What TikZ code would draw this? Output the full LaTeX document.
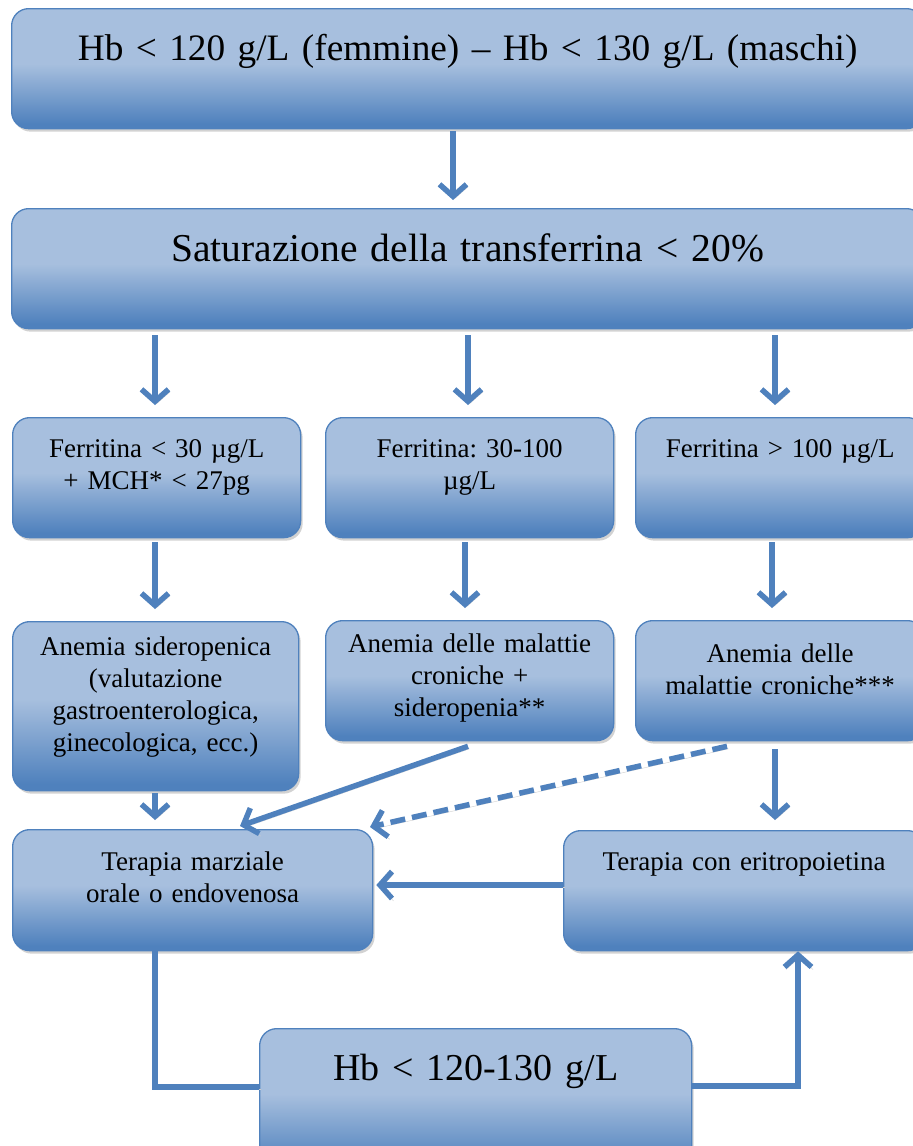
\documentclass[tikz,border=0pt]{standalone}
\usepackage{fontspec}
\setmainfont{Liberation Serif}[WordSpace=0.85]
\usetikzlibrary{arrows.meta,shadows,calc}
\definecolor{btop}{RGB}{167,191,222}
\definecolor{bbot}{RGB}{79,129,189}
\definecolor{bline}{RGB}{79,129,189}
\definecolor{shgray}{RGB}{205,205,205}
\pgfdeclareverticalshading{boxgrad}{100bp}{color(0bp)=(bbot); color(27bp)=(bbot); color(52bp)=(btop); color(100bp)=(btop)}
\newcommand{\bigtxt}{\frenchspacing\fontsize{39.5}{47}\selectfont}
\newcommand{\smalltxt}{\frenchspacing\fontsize{27}{32}\selectfont}
\begin{document}
\begin{tikzpicture}[x=1pt,y=-1pt,
  box/.style={draw=bline, line width=1.3pt, rounded corners=17pt, shading=boxgrad,
    inner sep=0pt, anchor=north west, align=center,
    drop shadow={shadow xshift=2pt, shadow yshift=-3pt, fill=shgray, opacity=0.9}},
  lineshadow/.style={preaction={draw=shgray, transform canvas={shift={(1.5pt,-2.5pt)}}}},
  conn/.style={draw=bline, line width=5.5pt, lineshadow},
  arr/.style={conn, -{Straight Barb[length=12pt, width=27pt]}},
  dasharr/.style={arr, dash pattern=on 15pt off 7pt}]
\clip (0,0) rectangle (913,1146);

% boxes
\node[box, text width=912pt, text height=52pt, text depth=68pt, font=\frenchspacing\fontsize{37.3}{45}\selectfont] (b1) at (11,8)
  {Hb < 120 g/L (femmine) – Hb < 130 g/L (maschi)};
\node[box, text width=912pt, text height=53pt, text depth=67pt, font=\bigtxt] (b2) at (11,208)
  {Saturazione della transferrina < 20\%};

\node[box, text width=288pt, text height=40pt, text depth=80pt, font=\smalltxt] (f1) at (12,417)
  {Ferritina < 30 µg/L\\+ MCH* < 27pg};
\node[box, text width=288pt, text height=40pt, text depth=80pt, font=\smalltxt] (f2) at (325,417)
  {Ferritina: 30-100\\µg/L};
\node[box, text width=289pt, text height=40pt, text depth=80pt, font=\smalltxt] (f3) at (635,417)
  {Ferritina > 100 µg/L};

\node[box, text width=286pt, text height=34pt, text depth=135pt, font=\smalltxt] (a1) at (12,621)
  {Anemia sideropenica\\(valutazione\\gastroenterologica,\\ginecologica, ecc.)};
\node[box, text width=288pt, text height=32pt, text depth=88pt, font=\smalltxt] (a2) at (325,620)
  {Anemia delle malattie\\croniche +\\sideropenia**};
\node[box, text width=289pt, text height=42pt, text depth=78pt, font=\smalltxt] (a3) at (635,620)
  {Anemia delle\\malattie croniche***};

\node[box, text width=360pt, text height=41pt, text depth=80pt, font=\smalltxt] (t1) at (12,829)
  {Terapia marziale\\orale o endovenosa};
\node[box, text width=361pt, text height=40pt, text depth=80pt, font=\smalltxt] (t2) at (563,830)
  {Terapia con eritropoietina};

\node[box, text width=432pt, text height=52pt, text depth=90pt, font=\frenchspacing\fontsize{38}{46}\selectfont] (hb) at (259,1028)
  {Hb < 120-130 g/L};

% connectors
\draw[arr, shorten <=2pt, shorten >=8pt] (453,0 |- b1.south) -- (453,0 |- b2.north);

\draw[arr, shorten <=6pt, shorten >=12pt] (155,0 |- b2.south) -- (155,0 |- f1.north);
\draw[arr, shorten <=6pt, shorten >=12pt] (468,0 |- b2.south) -- (468,0 |- f2.north);
\draw[arr, shorten <=6pt, shorten >=12pt] (775,0 |- b2.south) -- (775,0 |- f3.north);

\draw[arr, shorten <=4pt, shorten >=12pt] (155,0 |- f1.south) -- (155,0 |- a1.north);
\draw[arr, shorten <=4pt, shorten >=12pt] (465,0 |- f2.south) -- (465,0 |- a2.north);
\draw[arr, shorten <=4pt, shorten >=12pt] (772,0 |- f3.south) -- (772,0 |- a3.north);

\draw[arr, shorten <=2pt, shorten >=9pt] (155,0 |- a1.south) -- (155,0 |- t1.north);
\draw[arr] ($(468,0 |- a2.south)+(0,5)$) -- ($(240,0 |- t1.north)+(0,-3)$);
\draw[dasharr] ($(727,0 |- a3.south)+(0,5)$) -- ($(370,0 |- t1.north)+(0,-2)$);
\draw[arr, shorten <=8pt, shorten >=10pt] (775,0 |- a3.south) -- (775,0 |- t2.north);

\draw[arr, shorten >=3pt] (t2.west |- 0,885) -- (t1.east |- 0,885);

\draw[conn] (155,0 |- t1.south) |- (hb.west |- 0,1087);
\draw[arr] (hb.east |- 0,1086) -| (798,0 |- t2.south);
\end{tikzpicture}
\end{document}
